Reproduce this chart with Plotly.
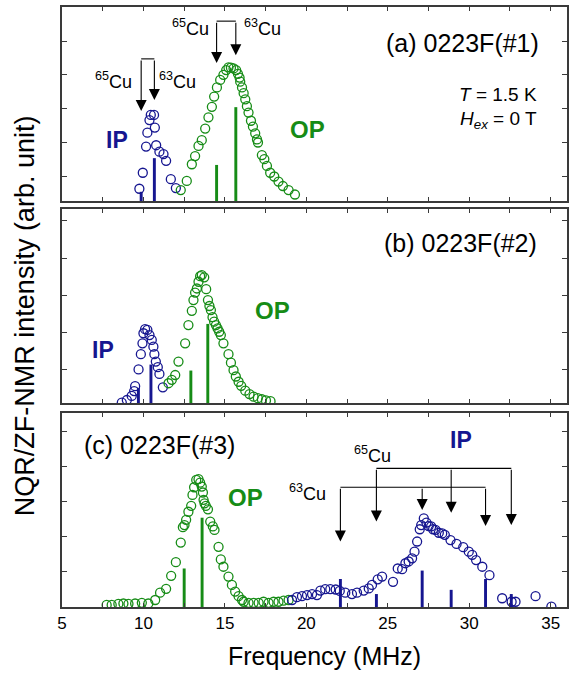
import plotly.graph_objects as go

BLUE = "#161690"
GREEN = "#168c16"
FONT = "Liberation Sans, Arial, sans-serif"

# ---------------- data (frequency MHz, intensity arb. unit) ----------------
# panel (a) 0223F(#1)
a_ip_f = [9.75, 9.96, 10.16, 10.24, 10.37, 10.45, 10.65, 10.70, 10.78, 10.98, 11.23, 11.39, 11.68, 11.99]
a_ip_i = [0.36, 0.83, 1.60, 2.01, 2.38, 2.53, 2.53, 2.16, 1.64, 1.45, 1.38, 1.18, 0.64, 0.38]
a_op_f = [12.29, 12.66, 12.97, 13.17, 13.38, 13.58, 13.79, 13.99, 14.20, 14.34, 14.51, 14.71, 14.91,
          15.08, 15.22, 15.37, 15.53, 15.69, 15.80, 15.90, 15.94, 16.05, 16.15, 16.25, 16.35, 16.45,
          16.60, 16.72, 16.86, 16.97, 17.03, 17.27, 17.42, 17.58, 17.78, 18.03, 18.29, 18.56, 18.91, 19.30]
a_op_i = [0.32, 0.59, 1.08, 1.32, 1.62, 1.79, 2.13, 2.46, 2.77, 3.07, 3.34, 3.56, 3.71,
          3.85, 3.93, 3.92, 3.90, 3.85, 3.74, 3.63, 3.51, 3.34, 3.17, 2.99, 2.79, 2.60,
          2.36, 2.19, 1.99, 1.81, 1.72, 1.35, 1.23, 1.03, 0.83, 0.72, 0.57, 0.44, 0.32, 0.19]
a_ip_bar_f = [9.86, 10.67]
a_ip_bar_i = [0.27, 1.26]
a_op_bar_f = [14.49, 15.67]
a_op_bar_i = [1.06, 2.76]

# panel (b) 0223F(#2)
b_ip_f = [8.67, 8.98, 9.28, 9.43, 9.49, 9.70, 9.84, 9.94, 10.00, 10.10, 10.24, 10.37, 10.51, 10.61,
          10.67, 10.76, 10.88, 10.98, 11.19]
b_ip_i = [0.01, 0.08, 0.19, 0.32, 0.45, 0.90, 1.31, 1.60, 1.87, 1.98, 1.96, 1.82, 1.69, 1.51,
          1.31, 1.11, 0.96, 0.78, 0.42]
b_op_f = [11.54, 11.74, 11.95, 12.15, 12.56, 12.76, 12.97, 13.07, 13.17, 13.28, 13.38, 13.48, 13.58,
          13.73, 13.85, 13.96, 14.05, 14.14, 14.24, 14.34, 14.45, 14.55, 14.65, 14.75, 14.91, 15.22,
          15.37, 15.53, 15.67, 15.84, 16.00, 16.25, 16.51, 16.76, 17.02, 17.27, 17.52, 17.80]
b_op_i = [0.53, 0.62, 0.75, 1.11, 1.60, 2.09, 2.47, 2.76, 2.96, 3.07, 3.25, 3.40, 3.43,
          3.37, 3.05, 2.76, 2.60, 2.49, 2.30, 2.18, 2.09, 2.00, 1.91, 1.82, 1.60, 1.31,
          1.08, 0.88, 0.71, 0.57, 0.46, 0.33, 0.24, 0.17, 0.13, 0.10, 0.07, 0.05]
b_ip_bar_f = [9.69, 10.46]
b_ip_bar_i = [0.40, 1.03]
b_op_bar_f = [12.91, 13.95]
b_op_bar_i = [0.87, 2.12]

# panel (c) 0223F(#3)
c_op_f = [7.74, 8.05, 8.46, 8.77, 9.08, 9.49, 9.90, 10.30, 10.72, 11.02, 11.39, 11.70, 11.99, 12.29,
          12.42, 12.52, 12.62, 12.76, 12.93, 13.01, 13.11, 13.24, 13.38, 13.48, 13.58, 13.65, 13.69,
          13.75, 13.83, 13.96, 14.10, 14.26, 14.36, 14.61, 14.75, 14.91, 15.22, 15.43, 15.63, 15.84,
          16.05, 16.15, 16.45, 16.76, 17.07, 17.37, 17.68, 17.99, 18.29, 18.60, 18.91]
c_op_i = [0.06, 0.06, 0.09, 0.10, 0.09, 0.10, 0.12, 0.10, 0.20, 0.41, 0.52, 0.89, 1.28, 1.84,
          2.28, 2.34, 2.49, 2.72, 2.89, 3.20, 3.42, 3.63, 3.65, 3.55, 3.44, 3.27, 3.06,
          2.96, 2.89, 2.79, 2.44, 2.30, 2.20, 1.72, 1.36, 1.15, 0.87, 0.63, 0.44, 0.31,
          0.20, 0.15, 0.12, 0.12, 0.12, 0.15, 0.12, 0.15, 0.15, 0.18, 0.20]
c_ip_f = [19.12, 19.42, 19.73, 20.04, 20.35, 20.65, 20.86, 21.16, 21.47, 21.80, 22.05, 22.39, 22.80,
          23.11, 23.52, 23.83, 24.03, 24.38, 24.65, 25.32, 25.61, 25.88, 26.08, 26.28, 26.49, 26.64,
          26.80, 26.96, 27.05, 27.21, 27.37, 27.51, 27.66, 27.78, 27.93, 28.13, 28.34, 28.50, 28.85,
          29.22, 29.63, 29.97, 30.18, 30.42, 30.80, 31.24, 32.02, 32.60, 32.84, 34.07, 35.04]
c_ip_i = [0.20, 0.28, 0.31, 0.34, 0.37, 0.34, 0.47, 0.51, 0.51, 0.50, 0.46, 0.41, 0.37,
          0.41, 0.47, 0.53, 0.63, 0.79, 0.87, 0.72, 1.10, 1.08, 1.25, 1.30, 1.39, 1.58,
          1.87, 2.22, 2.34, 2.53, 2.41, 2.31, 2.30, 2.22, 2.20, 2.12, 2.10, 2.06, 1.91,
          1.80, 1.71, 1.58, 1.49, 1.34, 1.15, 0.91, 0.25, 0.15, 0.15, 0.31, 0.01]
c_op_bar_f = [12.50, 13.60]
c_op_bar_i = [1.10, 2.55]
c_ip63_bar_f = [22.09, 27.11, 31.00]
c_ip63_bar_i = [0.80, 1.04, 0.80]
c_ip65_bar_f = [24.30, 28.89, 32.58]
c_ip65_bar_i = [0.37, 0.49, 0.37]

x_ticks = [5, 7.5, 10, 12.5, 15, 17.5, 20, 22.5, 25, 27.5, 30, 32.5, 35]
x_labels = ["5", "", "10", "", "15", "", "20", "", "25", "", "30", "", "35"]

# y ranges / tick positions per panel (arb. unit)
y_range = {1: [0, 5.706], 2: [0, 5.2], 3: [0, 5.54]}
y_ticks = {1: [0.706, 1.706, 2.706, 3.706, 4.706],
           2: [0.885, 1.885, 2.885, 3.885, 4.885],
           3: [1, 2, 3, 4, 5]}

# ---------------- figure ----------------
fig = go.Figure()
BAR_W = 0.18


def pts(row, f, i, color):
    fig.add_trace(go.Scatter(x=f, y=i, mode="markers", xaxis=f"x{'' if row == 1 else row}",
                             yaxis=f"y{'' if row == 1 else row}",
                             marker=dict(symbol="circle-open", size=9, color=color,
                                         line=dict(width=1.3, color=color)),
                             showlegend=False, cliponaxis=True))


def bars(row, f, i, color):
    fig.add_trace(go.Bar(x=f, y=i, width=BAR_W, marker=dict(color=color, line=dict(width=0)),
                         xaxis=f"x{'' if row == 1 else row}", yaxis=f"y{'' if row == 1 else row}",
                         showlegend=False))


pts(1, a_ip_f, a_ip_i, BLUE)
pts(1, a_op_f, a_op_i, GREEN)
bars(1, a_ip_bar_f, a_ip_bar_i, BLUE)
bars(1, a_op_bar_f, a_op_bar_i, GREEN)

pts(2, b_ip_f, b_ip_i, BLUE)
pts(2, b_op_f, b_op_i, GREEN)
bars(2, b_ip_bar_f, b_ip_bar_i, BLUE)
bars(2, b_op_bar_f, b_op_bar_i, GREEN)

pts(3, c_op_f, c_op_i, GREEN)
pts(3, c_ip_f, c_ip_i, BLUE)
bars(3, c_op_bar_f, c_op_bar_i, GREEN)
bars(3, c_ip63_bar_f, c_ip63_bar_i, BLUE)
bars(3, c_ip65_bar_f, c_ip65_bar_i, BLUE)

domains = {1: [0.6767, 1.0], 2: [0.34, 0.6633], 3: [0.0, 0.3233]}
axis_line = dict(showline=True, linecolor="#3a3a3a", linewidth=1.6, mirror="ticks",
                 ticks="inside", tickcolor="#3a3a3a", showgrid=False, zeroline=False)
layout = dict(width=569, height=673, margin=dict(l=62, r=2, t=7, b=66, autoexpand=False),
              paper_bgcolor="white", plot_bgcolor="white", barmode="overlay",
              font=dict(family=FONT, color="black"))
for r in (1, 2, 3):
    xs = "xaxis" if r == 1 else f"xaxis{r}"
    ys = "yaxis" if r == 1 else f"yaxis{r}"
    layout[xs] = dict(axis_line, range=[5, 36], tickvals=x_ticks,
                      ticktext=x_labels if r == 3 else [""] * len(x_ticks),
                      ticklen=4, tickwidth=1.2, anchor=f"y{'' if r == 1 else r}",
                      tickfont=dict(size=17, family=FONT, color="black"))
    layout[ys] = dict(axis_line, range=y_range[r], tickvals=y_ticks[r], showticklabels=False,
                      ticklen=5, tickwidth=1.2, domain=domains[r],
                      anchor=f"x{'' if r == 1 else r}")
fig.update_layout(**layout)

ann = []
shapes = []


def txt(row, x, y, text, size, color="black", xanchor="center", bold=False):
    ann.append(dict(x=x, y=y, xref=f"x{'' if row == 1 else row}", yref=f"y{'' if row == 1 else row}",
                    text=f"<b>{text}</b>" if bold else text, showarrow=False, xanchor=xanchor,
                    yanchor="middle", font=dict(size=size, color=color, family=FONT)))


def arrow(row, x, y_tip, y_top):
    r = "" if row == 1 else row
    ann.append(dict(x=x, y=y_tip, ax=x, ay=y_top, xref=f"x{r}", yref=f"y{r}",
                    axref=f"x{r}", ayref=f"y{r}", text="", showarrow=True,
                    arrowhead=2, arrowsize=2.0, arrowwidth=1.1, arrowcolor="black"))


def hline(row, x0, x1, y):
    r = "" if row == 1 else row
    shapes.append(dict(type="line", xref=f"x{r}", yref=f"y{r}", x0=x0, x1=x1, y0=y, y1=y,
                       line=dict(color="black", width=1.1)))


# panel (a) annotations
hline(1, a_ip_bar_f[0], a_ip_bar_f[1], 4.18)
arrow(1, a_ip_bar_f[0], 2.65, 4.18)
arrow(1, a_ip_bar_f[1], 2.97, 4.18)
hline(1, a_op_bar_f[0], a_op_bar_f[1], 5.29)
arrow(1, a_op_bar_f[0], 4.06, 5.29)
arrow(1, a_op_bar_f[1], 4.29, 5.29)
txt(1, 9.40, 3.55, "<sup>65</sup>Cu", 18, xanchor="right")
txt(1, 10.84, 3.55, "<sup>63</sup>Cu", 18, xanchor="left")
txt(1, 14.15, 5.09, "<sup>65</sup>Cu", 18, xanchor="right")
txt(1, 16.03, 5.09, "<sup>63</sup>Cu", 18, xanchor="left")
txt(1, 8.38, 1.79, "IP", 23, BLUE, bold=True)
txt(1, 20.06, 2.09, "OP", 24, GREEN, bold=True)
txt(1, 34.4, 4.65, "(a) 0223F(#1)", 25, xanchor="right")
txt(1, 34.3, 3.12, "<i>T</i> = 1.5 K", 19, xanchor="right")
txt(1, 34.3, 2.38, "<i>H</i><sub><i>ex</i></sub> = 0 T", 19, xanchor="right")

# panel (b)
txt(2, 7.52, 1.42, "IP", 23, BLUE, bold=True)
txt(2, 17.91, 2.49, "OP", 24, GREEN, bold=True)
txt(2, 34.3, 4.29, "(b) 0223F(#2)", 25, xanchor="right")

# panel (c)
hline(3, c_ip63_bar_f[0], c_ip63_bar_f[-1], 3.42)
arrow(3, c_ip63_bar_f[0], 1.87, 3.42)
arrow(3, c_ip63_bar_f[1], 2.77, 3.42)
arrow(3, c_ip63_bar_f[2], 2.31, 3.42)
hline(3, c_ip65_bar_f[0], c_ip65_bar_f[-1], 3.96)
arrow(3, c_ip65_bar_f[0], 2.44, 3.96)
arrow(3, c_ip65_bar_f[1], 2.69, 3.96)
arrow(3, c_ip65_bar_f[2], 2.34, 3.96)
txt(3, 24.05, 4.36, "<sup>65</sup>Cu", 18)
txt(3, 20.06, 3.28, "<sup>63</sup>Cu", 18)
txt(3, 29.52, 4.77, "IP", 23, BLUE, bold=True)
txt(3, 16.25, 3.14, "OP", 24, GREEN, bold=True)
txt(3, 6.2, 4.63, "(c) 0223F(#3)", 25, xanchor="left")

# axis titles
ann.append(dict(x=-0.073, y=0.485, xref="paper", yref="paper", text="NQR/ZF-NMR intensity (arb. unit)",
                textangle=-90, showarrow=False, xanchor="center", yanchor="middle",
                font=dict(size=27, family=FONT, color="black")))
ann.append(dict(x=0.52, y=-0.082, xref="paper", yref="paper", text="Frequency (MHz)",
                showarrow=False, xanchor="center", yanchor="middle",
                font=dict(size=25, family=FONT, color="black")))

fig.update_layout(annotations=ann, shapes=shapes)
fig.write_html("out.html", config={"displayModeBar": False},
               post_script="document.body.style.margin='0';document.body.style.padding='0';")
